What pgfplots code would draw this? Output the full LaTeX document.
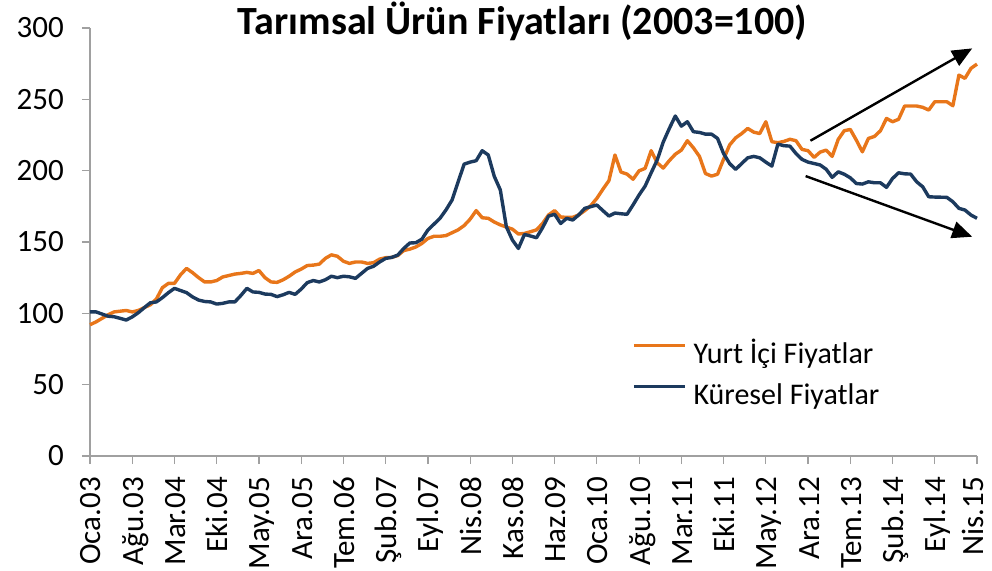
\documentclass[border=0pt]{standalone}
\usepackage{pgfplots}
\pgfplotsset{compat=1.18}
\usepackage{pgfplotstable}
\usepackage{fontspec}
\setmainfont{Carlito}
\usetikzlibrary{arrows.meta}
\definecolor{dom}{RGB}{232,118,26}
\definecolor{glob}{RGB}{28,58,94}
\definecolor{axgray}{RGB}{160,160,160}

\pgfplotstableread{
m dom glob
0 92 101
1 94 101
2 96.5 99.5
3 99 98
4 101 97.6
5 101.5 96.5
6 102 95.3
7 101 97.5
8 102 100.4
9 104 104
10 106 107.4
11 110 108
12 118 111
13 121 114.5
14 121 117.5
15 127 116
16 131.5 114.5
17 128.5 111.5
18 125 109.3
19 122 108.3
20 122 108
21 123 106.5
22 125.5 107
23 126.5 108
24 127.5 108
25 128 112.5
26 128.7 117.5
27 128 115
28 130 114.7
29 125 113.5
30 122 113.3
31 121.7 111.7
32 123.5 113
33 126 114.7
34 129 113.3
35 131 117
36 133.5 121.5
37 133.8 123
38 134.5 122
39 138.5 123.5
40 141 126
41 140 125
42 136.5 126
43 135 125.6
44 136 124.5
45 136 128
46 135 131.5
47 135.5 133
48 138 136
49 139 138.5
50 139.2 139.2
51 140.5 140.8
52 144 145.5
53 145 149.3
54 146.5 149.5
55 149 152
56 152.5 158.4
57 154 162.5
58 154 166.6
59 154.5 172.5
60 156.5 179.4
61 158.5 192
62 161.5 204.6
63 166 206
64 172 207
65 167 214
66 166.6 211
67 164 196
68 162 186.5
69 160.5 160.7
70 159 151.4
71 155.6 145.5
72 156 155.3
73 157.2 154.2
74 158.5 153
75 163 160
76 169 168.2
77 172 169.4
78 167.5 163
79 167.3 166.6
80 167.3 165.4
81 169 169
82 172 173.6
83 175.5 174.8
84 180.6 175.9
85 187 172
86 193 168.2
87 211 170.3
88 199 169.8
89 197.6 169.4
90 194 176
91 199.9 183
92 201.6 189.2
93 214 198.5
94 205.5 207.5
95 201.8 220
96 207 229.5
97 211.5 238.3
98 214.4 231.2
99 221 234.3
100 216 227.3
101 210 226.8
102 198 225.6
103 196.2 225.6
104 197.5 222.6
105 208 212
106 218 205
107 223 200.9
108 226 205
109 229.6 209
110 227 210
111 226 209
112 234.3 206
113 220.3 203.2
114 219.6 218.6
115 220.5 217.5
116 222 217.2
117 221 212
118 214.9 207.9
119 214 206
120 209.3 205
121 213 204
122 214.4 201
123 210 195.3
124 221.9 199.2
125 228 197.5
126 228.9 195
127 221.4 191
128 213.2 190.6
129 222.6 192.2
130 224 191.5
131 228 191.5
132 236.6 188.3
133 234.3 194.5
134 236 198.5
135 245.3 197.8
136 245.3 197.6
137 245.3 192.2
138 244.4 188.7
139 242.5 181.7
140 248.3 181.5
141 248.3 181.4
142 248.3 181.3
143 245.5 178.2
144 267 173.6
145 264.7 172.4
146 271.7 168.9
147 274.7 166.6
}\data

\begin{document}
\begin{tikzpicture}
\useasboundingbox (-90pt,-114pt) rectangle (902pt,456pt);
\begin{axis}[
  at={(0pt,0pt)}, anchor=south west,
  scale only axis, width=887pt, height=428pt,
  xmin=0, xmax=147, ymin=0, ymax=300,
  clip=false,
  axis x line*=bottom, axis y line*=left,
  axis line style={axgray, line width=1.2pt, -},
  tick style={axgray, line width=1.2pt},
  tick align=outside, major tick length=8pt,
  xtick={0,7,...,140},
  xticklabels={Oca.03,Ağu.03,Mar.04,Eki.04,May.05,Ara.05,Tem.06,Şub.07,Eyl.07,Nis.08,Kas.08,Haz.09,Oca.10,Ağu.10,Mar.11,Eki.11,May.12,Ara.12,Tem.13,Şub.14,Eyl.14},
  xticklabel style={rotate=90, anchor=east, inner sep=0pt, text height=22pt, text depth=0pt,
    font=\fontsize{31}{36}\selectfont, black},
  xticklabel shift=13pt,
  extra x ticks={147},
  extra x tick labels={Nis.15},
  extra x tick style={xticklabel style={text height=12pt}},
  ytick={0,50,...,300},
  yticklabel style={font=\fontsize{31}{36}\selectfont, black, inner sep=0pt, anchor=east},
  yticklabel shift=18pt,
  /pgf/number format/assume math mode=true,
  legend cell align=left,
  legend image code/.code={\path (0pt,0pt); \draw[#1] (0pt,10pt) -- (51pt,10pt);},
  legend style={draw=none, fill=none, inner sep=0pt, at={(0.611,0.2664)}, anchor=north west,
    font=\fontsize{30}{36}\selectfont,
    nodes={inner sep=0pt, text height=21pt, text depth=6pt},
    row sep=14pt, column sep=7pt},
]
\addplot[dom, line width=3.4pt, line join=round] table[x=m, y=dom] {\data};
\addlegendentry{Yurt İçi Fiyatlar}
\addplot[glob, line width=3.4pt, line join=round] table[x=m, y=glob] {\data};
\addlegendentry{Küresel Fiyatlar}
\addplot[black, line width=2.4pt, -{Triangle[length=20pt,width=17pt]}, forget plot] coordinates {(119.4,221) (146.2,285.7)};
\addplot[black, line width=2.4pt, -{Triangle[length=20pt,width=17pt]}, forget plot] coordinates {(118.6,196.2) (146.2,153.7)};
\end{axis}
\node[anchor=base, font=\fontsize{40}{48}\selectfont\bfseries] at (432.5pt,421pt) {Tarımsal Ürün Fiyatları (2003=100)};
\end{tikzpicture}
\end{document}
